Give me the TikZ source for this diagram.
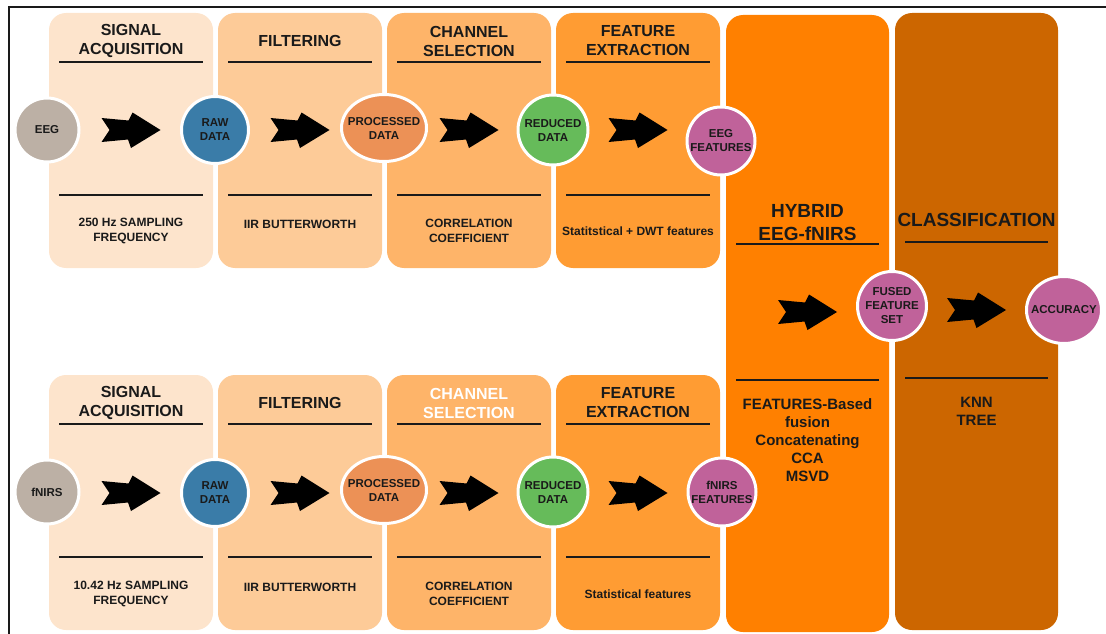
\documentclass[tikz,border=0pt]{standalone}
\usepackage{fontspec}
\setmainfont{Liberation Sans}
\usetikzlibrary{shapes.geometric,calc}

\definecolor{acqfill}{HTML}{FDE4CC}
\definecolor{filtfill}{HTML}{FDCB98}
\definecolor{chanfill}{HTML}{FEB469}
\definecolor{featfill}{HTML}{FF9C33}
\definecolor{hybfill}{HTML}{FF8000}
\definecolor{clsfill}{HTML}{CC6600}
\definecolor{srcgray}{HTML}{BCB0A5}
\definecolor{rawblue}{HTML}{3A7CA8}
\definecolor{procorange}{HTML}{EC9156}
\definecolor{redgreen}{HTML}{66BB5A}
\definecolor{featpurple}{HTML}{C0629A}
\definecolor{ink}{HTML}{1A1A1A}

\tikzset{
  frameline/.style={draw=ink, line width=2pt},
  panel/.style={rectangle, rounded corners=17pt, minimum width=164pt, inner sep=0pt, draw=none},
  rule/.style={draw=ink, line width=2pt},
  stage/.style={font=\fontsize{16}{19}\selectfont\bfseries, text=ink, align=center, inner sep=0pt},
  bigstage/.style={font=\fontsize{19}{23}\selectfont\bfseries, text=ink, align=center, inner sep=0pt},
  method/.style={font=\fontsize{12}{15}\selectfont\bfseries, text=ink, align=center, inner sep=0pt},
  bigmethod/.style={font=\fontsize{15}{18}\selectfont\bfseries, text=ink, align=center, inner sep=0pt},
  blob/.style={draw=white, line width=3pt, inner sep=0pt},
  disc/.style={blob, circle, minimum size=#1},
  ovalnode/.style 2 args={blob, ellipse, minimum width=#1, minimum height=#2},
  blobtext/.style={font=\fontsize{11.5}{14}\selectfont\bfseries, text=ink, align=center, inner sep=0pt},
  flowarrow/.pic={
    \fill[black] (-29.5,-12) -- (-21.5,0) -- (-29.5,12) -- (-3,9.5) -- (0,18)
      -- (29.5,0) -- (1.5,-17.5) -- (-2.5,-9.5) -- cycle;
  }
}

\begin{document}
\begin{tikzpicture}[x=1pt,y=-1pt]
\useasboundingbox (0,0) rectangle (1106,634);

% outer frame
\draw[frameline] (9,634) -- (9,7) -- (1106,7);

% stage panels, EEG row
\node[panel, fill=acqfill,  minimum height=255pt] (acq1)  at (131,140.5) {};
\node[panel, fill=filtfill, minimum height=255pt] (filt1) at (300,140.5) {};
\node[panel, fill=chanfill, minimum height=255pt] (chan1) at (469,140.5) {};
\node[panel, fill=featfill, minimum height=255pt] (feat1p) at (638,140.5) {};
% stage panels, fNIRS row
\node[panel, fill=acqfill,  minimum height=255pt] (acq2)  at (131,502.5) {};
\node[panel, fill=filtfill, minimum height=255pt] (filt2) at (300,502.5) {};
\node[panel, fill=chanfill, minimum height=255pt] (chan2) at (469,502.5) {};
\node[panel, fill=featfill, minimum height=255pt] (feat2p) at (638,502.5) {};
% shared panels
\node[panel, fill=hybfill, minimum width=163pt, minimum height=617pt] (hyb) at (807.5,323.5) {};
\node[panel, fill=clsfill, minimum width=163pt, minimum height=617pt] (cls) at (976.5,321.5) {};

% separator rules
\foreach \xl in {59,228,397,566} {
  \draw[rule] (\xl,62)  -- ++(144,0);
  \draw[rule] (\xl,195) -- ++(144,0);
  \draw[rule] (\xl,424) -- ++(144,0);
  \draw[rule] (\xl,557) -- ++(144,0);
}
\draw[rule] (736,244) -- (879,244);
\draw[rule] (736,380) -- (879,380);
\draw[rule] (905,242) -- (1048,242);
\draw[rule] (905,378) -- (1048,378);

% stage titles
\node[stage] (tacq1)  at (131,41) {SIGNAL\\ACQUISITION};
\node[stage] (tfilt1) at (300,41) {FILTERING};
\node[stage] (tchan1) at (469,41) {CHANNEL\\SELECTION};
\node[stage] (tfeat1) at (638,41) {FEATURE\\EXTRACTION};
\node[stage] (tacq2)  at (131,403) {SIGNAL\\ACQUISITION};
\node[stage] (tfilt2) at (300,403) {FILTERING};
\node[stage, text=white] (tchan2) at (469,403) {CHANNEL\\SELECTION};
\node[stage] (tfeat2) at (638,403) {FEATURE\\EXTRACTION};
\node[bigstage] (thyb) at (807.5,222.5) {HYBRID\\EEG-fNIRS};
\node[bigstage] (tcls) at (976.5,220) {CLASSIFICATION};

% methods
\node[method] (macq1)  at (131,231) {250 Hz SAMPLING\\FREQUENCY};
\node[method] (mfilt1) at (300,224.5) {IIR BUTTERWORTH};
\node[method] (mchan1) at (469,231) {CORRELATION\\COEFFICIENT};
\node[method] (mfeat1) at (638,231) {Statitstical + DWT features};
\node[method] (macq2)  at (131,594) {10.42 Hz SAMPLING\\FREQUENCY};
\node[method] (mfilt2) at (300,587.5) {IIR BUTTERWORTH};
\node[method] (mchan2) at (469,594) {CORRELATION\\COEFFICIENT};
\node[method] (mfeat2) at (638,594) {Statistical features};
\node[bigmethod] (mhyb) at (807.5,440) {FEATURES-Based\\fusion\\Concatenating\\CCA\\MSVD};
\node[bigmethod] (mcls) at (976.5,411) {KNN\\TREE};

% data nodes, EEG row
\node[disc=64pt, fill=srcgray] (eegsrc) at (47,130) {};
\node[disc=67pt, fill=rawblue] (raw1) at (215,130) {};
\node[ovalnode={85pt}{67pt}, fill=procorange] (proc1) at (384,128) {};
\node[disc=70pt, fill=redgreen] (red1) at (553,130) {};
\node[disc=68pt, fill=featpurple] (feat1) at (721,141) {};
% data nodes, fNIRS row
\node[disc=64pt, fill=srcgray] (fnirssrc) at (47,492) {};
\node[disc=67pt, fill=rawblue] (raw2) at (215,493) {};
\node[ovalnode={85pt}{67pt}, fill=procorange] (proc2) at (384,490) {};
\node[disc=70pt, fill=redgreen] (red2) at (553,492) {};
\node[disc=68pt, fill=featpurple] (feat2) at (722,492) {};
% fusion and result
\node[disc=69pt, fill=featpurple] (fused) at (892,306) {};
\node[ovalnode={75pt}{67pt}, fill=featpurple] (acc) at (1064,310) {};

% node labels
\node[blobtext] (leegsrc) at (eegsrc) {EEG};
\node[blobtext] (lraw1) at (raw1) {RAW\\DATA};
\node[blobtext] (lproc1) at (proc1) {PROCESSED\\DATA};
\node[blobtext] (lred1) at (red1) {REDUCED\\DATA};
\node[blobtext] (lfeat1) at (feat1) {EEG\\FEATURES};
\node[blobtext] (lfnirssrc) at (fnirssrc) {fNIRS};
\node[blobtext] (lraw2) at (raw2) {RAW\\DATA};
\node[blobtext] (lproc2) at (proc2) {PROCESSED\\DATA};
\node[blobtext] (lred2) at (red2) {REDUCED\\DATA};
\node[blobtext] (lfeat2) at (feat2) {fNIRS\\FEATURES};
\node[blobtext] (lfused) at (fused) {FUSED\\FEATURE\\SET};
\node[blobtext] (lacc) at (acc) {ACCURACY};

% flow arrows, one per stage
\pic at (acq1 |- eegsrc) {flowarrow};
\pic at (filt1 |- eegsrc) {flowarrow};
\pic at (chan1 |- eegsrc) {flowarrow};
\pic at (feat1p |- eegsrc) {flowarrow};
\pic at (acq2 |- raw2) {flowarrow};
\pic at (filt2 |- raw2) {flowarrow};
\pic at (chan2 |- raw2) {flowarrow};
\pic at (feat2p |- raw2) {flowarrow};
\pic at ($(hyb |- fused)+(0,6)$) {flowarrow};
\pic at (cls |- acc) {flowarrow};
\end{tikzpicture}
\end{document}
